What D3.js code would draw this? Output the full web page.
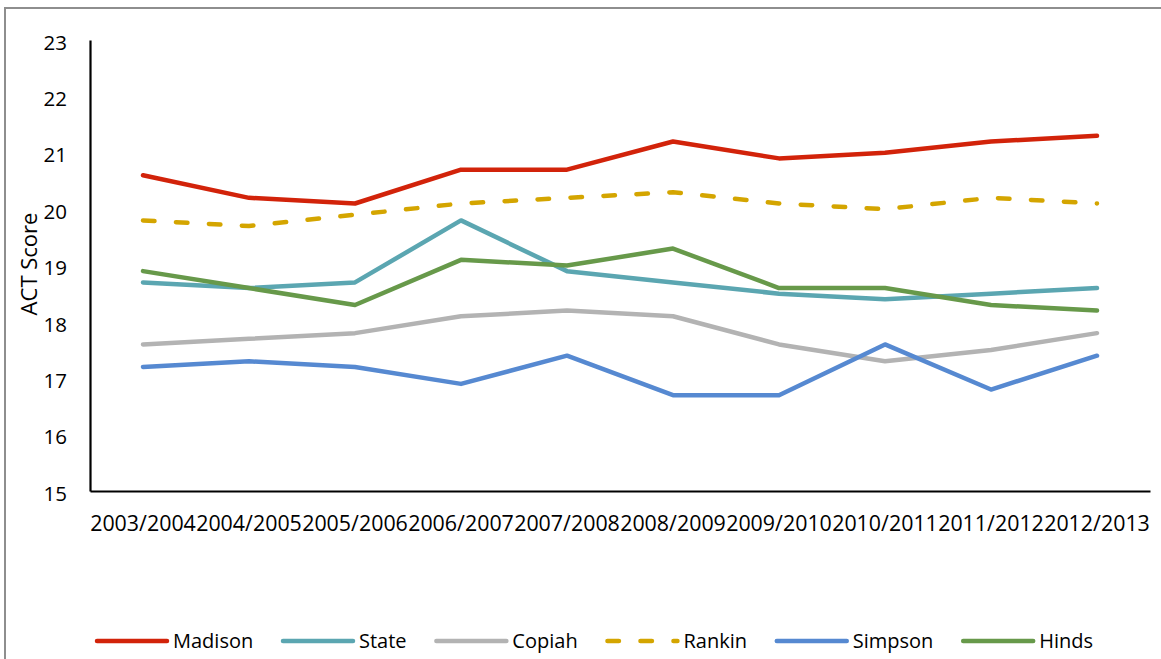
<!DOCTYPE html>
<html>
<head>
<meta charset="utf-8">
<script src="https://cdn.jsdelivr.net/npm/d3@7"></script>
<style>
  html, body { margin: 0; padding: 0; background: #fff; }
  svg { display: block; font-family: "Open Sans", "Noto Sans", sans-serif; }
</style>
</head>
<body>
<svg id="chart" width="1161" height="659"></svg>
<script>
// School years on the x axis
const years = ["2003/2004", "2004/2005", "2005/2006", "2006/2007", "2007/2008",
               "2008/2009", "2009/2010", "2010/2011", "2011/2012", "2012/2013"];

// Average ACT score per district
const madison = [20.6, 20.2, 20.1, 20.7, 20.7, 21.2, 20.9, 21.0, 21.2, 21.3];
const state   = [18.7, 18.6, 18.7, 19.8, 18.9, 18.7, 18.5, 18.4, 18.5, 18.6];
const copiah  = [17.6, 17.7, 17.8, 18.1, 18.2, 18.1, 17.6, 17.3, 17.5, 17.8];
const rankin  = [19.8, 19.7, 19.9, 20.1, 20.2, 20.3, 20.1, 20.0, 20.2, 20.1];
const simpson = [17.2, 17.3, 17.2, 16.9, 17.4, 16.7, 16.7, 17.6, 16.8, 17.4];
const hinds   = [18.9, 18.6, 18.3, 19.1, 19.0, 19.3, 18.6, 18.6, 18.3, 18.2];

const seriesNames = ["Madison", "State", "Copiah", "Rankin", "Simpson", "Hinds"];
const seriesValues = [madison, state, copiah, rankin, simpson, hinds];
const seriesColors = ["#d2230a", "#5ba6b1", "#b3b3b3", "#d4a500", "#5689d1", "#67994a"];
const seriesDashed = [false, false, false, true, false, false];

const yTicks = [15, 16, 17, 18, 19, 20, 21, 22, 23];

const svg = d3.select("#chart");

// Outer frame (top and left edges visible)
svg.append("path")
  .attr("d", "M5,670 L5,8 L1175,8")
  .attr("fill", "none")
  .attr("stroke", "#8e8e8e")
  .attr("stroke-width", 2);

const plot = { left: 90, right: 1150, top: 40, bottom: 491 };

const x = d3.scaleBand().domain(years).range([plot.left, plot.right]).padding(0);
const y = d3.scaleLinear().domain([15, 23]).range([plot.bottom, plot.top]);

// Y axis
const yAxis = svg.append("g")
  .attr("transform", `translate(${plot.left},0)`)
  .call(d3.axisLeft(y).tickValues(yTicks).tickSize(0).tickPadding(23).tickFormat(d3.format("d")));
yAxis.select(".domain").attr("stroke", "#000").attr("stroke-width", 2.2);
yAxis.selectAll("text")
  .attr("font-size", 20.5)
  .attr("font-family", "'Open Sans', sans-serif")
  .attr("fill", "#000")
  .attr("dy", "0.45em");

// X axis
const xAxis = svg.append("g")
  .attr("transform", `translate(0,${plot.bottom})`)
  .call(d3.axisBottom(x).tickSize(0).tickPadding(0));
xAxis.select(".domain").attr("stroke", "#000").attr("stroke-width", 2.2);
xAxis.selectAll("text")
  .attr("font-size", 21.4)
  .attr("font-family", "'Open Sans', sans-serif")
  .attr("fill", "#000")
  .attr("y", 40)
  .attr("dy", 0);

// Y axis title
svg.append("text")
  .attr("transform", `translate(37,264) rotate(-90)`)
  .attr("text-anchor", "middle")
  .attr("font-size", 22)
  .attr("fill", "#000")
  .text("ACT Score");

// Series lines
const line = d3.line()
  .x((d, i) => x(years[i]) + x.bandwidth() / 2)
  .y(d => y(d));

const lineWidth = 4.5;
seriesValues.forEach((vals, k) => {
  svg.append("path")
    .datum(vals)
    .attr("d", line)
    .attr("fill", "none")
    .attr("stroke", seriesColors[k])
    .attr("stroke-width", lineWidth)
    .attr("stroke-linecap", "round")
    .attr("stroke-linejoin", "round")
    .attr("stroke-dasharray", seriesDashed[k] ? "11.5,21.5" : null);
});

// Legend
const legendY = 641;
const swatch = 70, swatchGap = 6;
const legendStart = 97, legendEnd = 1093;
const legend = svg.append("g");
const items = seriesNames.map((name, k) => {
  const g = legend.append("g");
  g.append("line")
    .attr("x1", 0).attr("x2", swatch)
    .attr("y1", 0).attr("y2", 0)
    .attr("stroke", seriesColors[k])
    .attr("stroke-width", lineWidth)
    .attr("stroke-linecap", "round")
    .attr("stroke-dasharray", seriesDashed[k] ? "11.5,21.5" : null);
  const t = g.append("text")
    .attr("x", swatch + swatchGap)
    .attr("y", 0)
    .attr("dy", "0.35em")
    .attr("font-size", 20)
    .attr("fill", "#000")
    .text(name);
  return { g, w: swatch + swatchGap + t.node().getComputedTextLength() };
});
const totalW = d3.sum(items, d => d.w);
const gap = (legendEnd - legendStart - totalW) / (items.length - 1);
let cx = legendStart;
items.forEach(it => {
  it.g.attr("transform", `translate(${cx},${legendY})`);
  cx += it.w + gap;
});
</script>
</body>
</html>
